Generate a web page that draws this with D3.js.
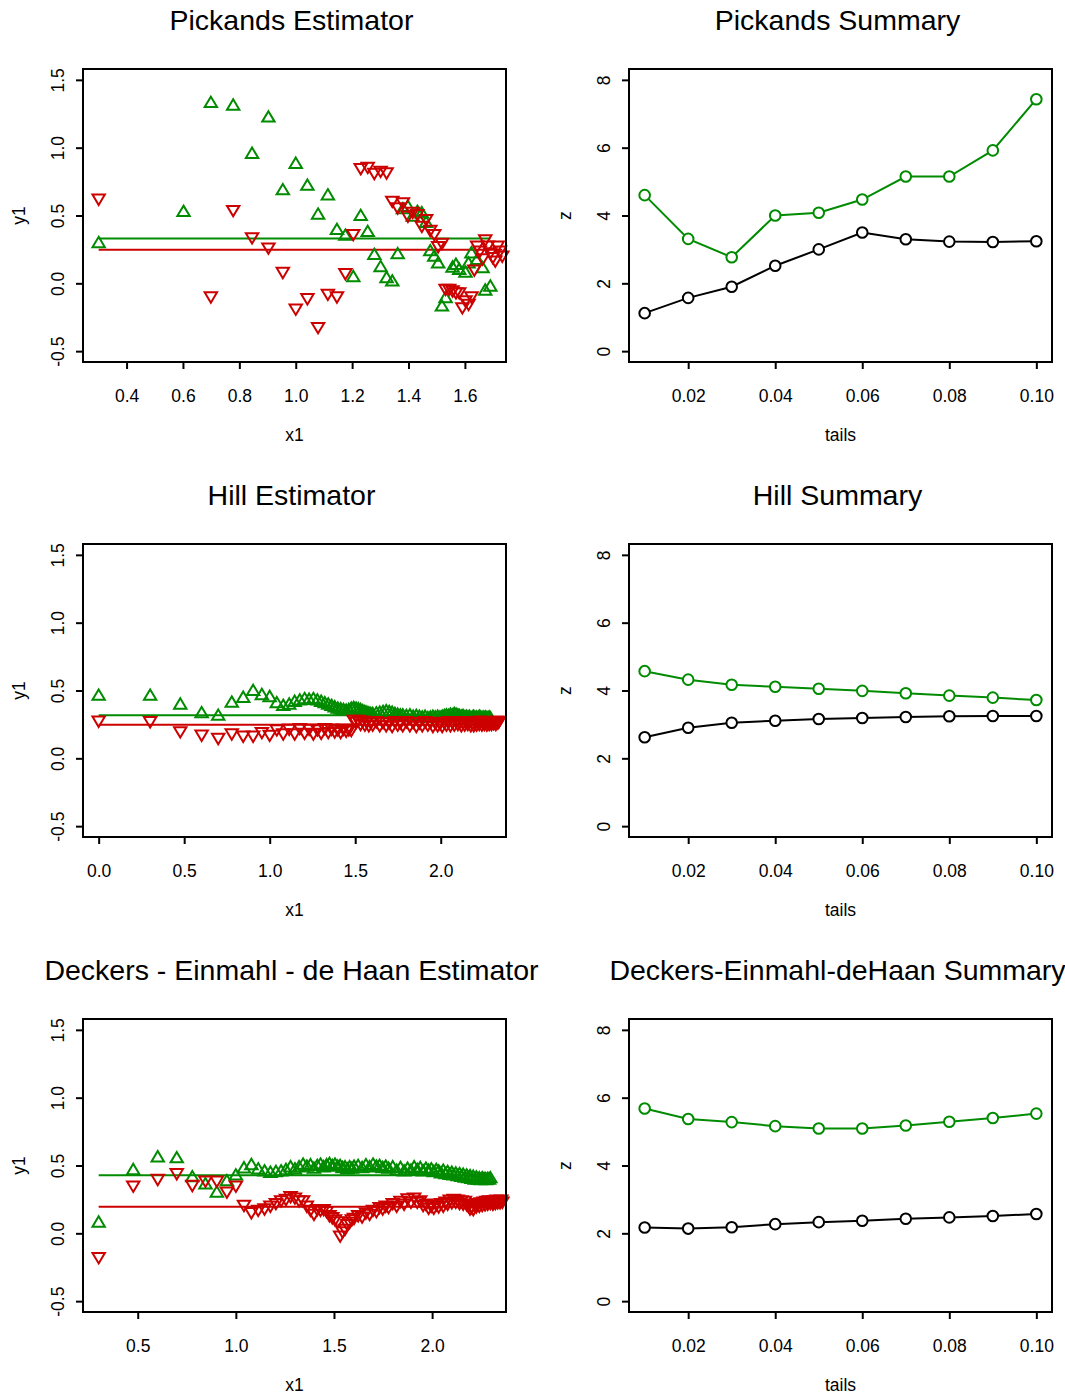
<!DOCTYPE html>
<html>
<head>
<meta charset="utf-8">
<script src="https://cdnjs.cloudflare.com/ajax/libs/d3/7.8.5/d3.min.js"></script>
<style>
  body { margin: 0; background: #fff; }
  svg text { font-family: "Liberation Sans", Arial, sans-serif; fill: #000; }
</style>
</head>
<body>
<svg id="chart" width="1065" height="1398"></svg>
<script>
//======
// Data
//======

// Pickands estimator: k (x1 = log10 k) and estimates
var pickUpK = [2,4,5,6,7,8,9,10,11,12,13,14,15,16,17,18,19,20,21,22,23,24,25,26,27,28,29,30,31,32,33,34,36,37,38,40,41,42,44,46,47,49];
var pickUpY = [0.30,0.53,1.333,1.314,0.958,1.226,0.69,0.885,0.723,0.51,0.652,0.397,0.355,0.05,0.50,0.382,0.213,0.123,0.042,0.017,0.218,0.55,0.568,0.495,0.53,0.52,0.45,0.24,0.20,0.15,-0.167,-0.105,0.12,0.14,0.103,0.083,0.15,0.225,0.176,0.115,-0.05,-0.02];
var pickDownK = [2,5,6,7,8,9,10,11,12,13,14,15,16,17,18,19,20,21,22,23,24,25,26,27,28,29,30,31,32,33,34,35,36,37,38,39,40,41,42,43,44,45,46,47,48,49,50,51,52,53,54];
var pickDownY = [0.62,-0.10,0.537,0.336,0.26,0.08,-0.19,-0.113,-0.326,-0.081,-0.10,0.071,0.36,0.846,0.855,0.81,0.826,0.814,0.605,0.556,0.593,0.495,0.524,0.507,0.42,0.47,0.39,0.36,0.27,0.294,-0.044,-0.044,-0.056,-0.07,-0.07,-0.18,-0.13,-0.155,-0.10,0.098,0.274,0.238,0.18,0.32,0.274,0.225,0.19,0.164,0.274,0.238,0.20];
var pickLines = [0.331, 0.248];

// Hill estimator
var hillUpK = [1,2,3,4,5,6,7,8,9,10,11,12,13,14,15,16,17,18,19,20,21,22,23,24,25,26,27,28,29,30,31,32,33,34,35,36,37,38,39,40,
  42,44,46,48,50,52,54,56,58,60,
  63,66,69,72,75,78,81,84,87,90,93,96,99,102,105,108,111,114,117,120,123,126,129,132,135,138,141,144,147,150,153,156,159,162,165,168,171,174,177,180,183,186,189,192,195];
var hillUpY = [0.465,0.465,0.40,0.336,0.318,0.414,0.45,0.50,0.47,0.455,0.41,0.39,0.40,0.42,0.43,0.44,0.435,0.44,0.43,0.42,0.41,0.40,0.39,0.38,0.37,0.365,0.36,0.355,0.36,0.37,0.375,0.37,0.365,0.36,0.35,0.345,0.34,0.335,0.33,0.33,
  0.335,0.34,0.345,0.35,0.345,0.34,0.33,0.325,0.32,0.32,
  0.315,0.32,0.31,0.315,0.31,0.305,0.31,0.30,0.305,0.31,0.305,0.31,0.305,0.31,0.315,0.32,0.315,0.325,0.32,0.33,0.325,0.32,0.315,
  0.31,0.315,0.305,0.31,0.305,0.31,0.30,0.305,0.31,0.30,0.305,0.30,0.31,0.305,0.30,0.305,0.30,0.305,0.30,0.30,0.305,0.30];
var hillDownK = [1,2,3,4,5,6,7,8,9,10,11,12,13,14,15,16,17,18,19,20,21,22,23,24,25,26,27,28,29,30,31,32,33,34,35,36,37,38,39,40,
  42,44,46,48,50,52,54,56,58,60,
  63,66,69,72,75,78,81,84,87,90,93,96,99,102,105,108,111,114,117,120,123,126,129,132,135,138,141,144,147,150,153,156,159,162,165,168,171,174,177,180,183,186,189,192,195,198,201,204,207,210,213,216,219];
var hillDownY = [0.274,0.27,0.196,0.171,0.147,0.18,0.163,0.163,0.19,0.17,0.21,0.18,0.215,0.18,0.22,0.185,0.215,0.18,0.21,0.185,0.22,0.19,0.215,0.195,0.21,0.19,0.215,0.20,0.21,0.205,0.28,0.265,0.28,0.25,0.275,0.245,0.27,0.24,0.265,0.245,
  0.27,0.24,0.265,0.24,0.26,0.235,0.27,0.245,0.26,0.24,
  0.27,0.24,0.265,0.235,0.26,0.24,0.27,0.245,0.265,0.235,0.26,0.24,0.255,0.235,0.265,0.245,0.27,0.24,0.265,0.245,
  0.27,0.25,0.265,0.24,0.26,0.245,0.27,0.25,0.265,0.24,0.26,0.24,0.265,0.245,0.27,0.25,0.275,0.245,0.27,0.25,
  0.265,0.245,0.27,0.25,0.265,0.25,0.27,0.255,0.27,0.25,0.275,0.26,0.27];
var hillLines = [0.318, 0.248];

// Deckers - Einmahl - de Haan estimator
var dedhUpK = [2,3,4,5,6,7,8,9,10,11,12,13,14,15,16,17,18,19,20,21,22,23,24,25,26,27,28,29,30,31,32,33,34,35,36,37,38,39,40,
  42,44,46,48,50,52,54,56,58,60,
  63,66,69,72,75,78,81,84,87,90,93,96,99,102,105,108,111,114,117,120,123,126,129,132,135,138,141,144,147,150,153,156,159,162,165,168,171,174,177,180,183,186,189,192,195,198];
var dedhUpY = [0.083,0.47,0.564,0.557,0.417,0.365,0.304,0.388,0.43,0.483,0.507,0.475,0.46,0.45,0.455,0.46,0.47,0.49,0.475,0.49,0.51,0.495,0.505,0.48,0.50,0.51,0.49,0.505,0.515,0.50,0.51,0.495,0.50,0.485,0.49,0.475,0.49,0.48,0.495,
  0.50,0.485,0.505,0.49,0.51,0.495,0.50,0.485,0.495,0.48,
  0.49,0.465,0.485,0.46,0.48,0.465,0.49,0.47,0.485,0.46,0.48,0.465,0.475,0.455,0.47,
  0.46,0.445,0.465,0.44,0.455,0.435,0.45,0.43,0.445,0.425,0.44,0.42,0.435,0.415,0.43,0.41,0.425,0.405,0.42,0.40,0.415,0.40,0.41,0.395,0.41,0.40,0.405,0.395,0.405,0.40,0.41];
var dedhDownK = [2,3,4,5,6,7,8,9,10,11,12,13,14,15,16,17,18,19,20,21,22,23,24,25,26,27,28,29,30,31,32,33,34,35,36,37,38,39,40,
  42,44,46,48,50,52,54,56,58,60,
  63,66,69,72,75,78,81,84,87,90,93,96,99,102,105,108,111,114,117,120,123,126,129,132,135,138,141,144,147,150,153,156,159,162,165,168,171,174,177,180,183,186,189,192,195,198,201,204,207,210,213,216,219,222,225,228];
var dedhDownY = [-0.179,0.348,0.397,0.44,0.353,0.385,0.385,0.304,0.348,0.206,0.152,0.17,0.18,0.20,0.22,0.24,0.25,0.27,0.26,0.24,0.24,0.20,0.17,0.14,0.175,0.17,0.175,0.16,0.13,0.115,0.10,0.085,-0.02,0.01,0.03,0.065,0.08,0.10,0.11,
  0.13,0.12,0.15,0.14,0.17,0.16,0.19,0.18,0.20,0.19,
  0.22,0.20,0.235,0.215,0.255,0.23,
  0.26,0.23,0.24,0.205,0.215,0.185,
  0.20,0.185,0.21,0.195,0.22,0.20,0.23,0.215,
  0.245,0.225,0.25,0.23,0.245,0.22,0.24,0.215,0.235,0.21,
  0.20,0.18,0.19,0.175,0.21,0.195,0.22,0.20,0.225,0.205,
  0.23,0.21,0.235,0.215,0.24,0.22,0.235,0.215,0.24,0.22,0.245,0.225,0.24,0.225,0.245,0.23];
var dedhLines = [0.429, 0.196];

// Summaries over tail fractions
var tails = [0.01,0.02,0.03,0.04,0.05,0.06,0.07,0.08,0.09,0.10];
var pickSumUpper = [4.60,3.31,2.77,4.00,4.08,4.47,5.15,5.15,5.92,7.43];
var pickSumLower = [1.12,1.57,1.90,2.52,3.00,3.50,3.30,3.23,3.22,3.24];
var hillSumUpper = [4.57,4.32,4.17,4.11,4.05,3.99,3.92,3.85,3.79,3.72];
var hillSumLower = [2.62,2.90,3.05,3.11,3.16,3.19,3.22,3.24,3.25,3.25];
var dedhSumUpper = [5.68,5.37,5.28,5.16,5.09,5.09,5.18,5.29,5.40,5.53];
var dedhSumLower = [2.17,2.14,2.18,2.27,2.33,2.37,2.43,2.47,2.51,2.57];

var estTicksY = [-0.5, 0, 0.5, 1.0, 1.5];
var sumTicksY = [0, 2, 4, 6, 8];
var sumTicksX = [0.02, 0.04, 0.06, 0.08, 0.10];

//========
// Layout
//========

var colLeft = [83, 506], colRight = [629, 1052];
var rowTop = [69, 544, 1019], plotH = 293;
var green = "#008B00", red = "#CD0000";
var lw = 2;

var svg = d3.select("#chart");

// R style 4% padding
function pad(ext) {
  var d = (ext[1] - ext[0]) * 0.04;
  return [ext[0] - d, ext[1] + d];
}

function triangle(up) {
  var s = up ? 1 : -1;
  return "M0," + (-5.8 * s) + "L6.2," + (4.6 * s) + "L-6.2," + (4.6 * s) + "Z";
}

function decorate(g, w, opt) {
  // box
  g.append("rect")
    .attr("width", w).attr("height", plotH)
    .attr("fill", "none").attr("stroke", "#000").attr("stroke-width", lw);

  g.append("text")
    .attr("x", w / 2 - 3).attr("y", -39)
    .attr("text-anchor", "middle")
    .style("font-size", "28.5px")
    .text(opt.title);

  g.append("text")
    .attr("x", w / 2).attr("y", plotH + 79)
    .attr("text-anchor", "middle")
    .style("font-size", "17.5px")
    .text(opt.xlab);

  g.append("text")
    .attr("transform", "translate(-58," + (plotH / 2) + ") rotate(-90)")
    .attr("text-anchor", "middle")
    .style("font-size", "17.5px")
    .text(opt.ylab);
}

function styleAxes(g, x, y, xTicks, yTicks, xFmt, yFmt) {
  var xa = g.append("g")
    .attr("transform", "translate(0," + plotH + ")")
    .call(d3.axisBottom(x).tickValues(xTicks).tickFormat(xFmt).tickSize(7));
  var ya = g.append("g")
    .call(d3.axisLeft(y).tickValues(yTicks).tickFormat(yFmt).tickSize(7));

  [xa, ya].forEach(function(a) {
    a.select(".domain").remove();
    a.selectAll("line").attr("stroke", "#000").attr("stroke-width", lw);
    a.selectAll("text").style("font-size", "17.5px").attr("fill", "#000")
      .style("font-family", "'Liberation Sans', Arial, sans-serif");
  });
  xa.selectAll("text").attr("y", 40).attr("dy", null);
  ya.selectAll("text")
    .attr("x", null).attr("dy", null)
    .attr("text-anchor", "middle")
    .attr("transform", "translate(-19,0) rotate(-90)");
}

function drawEstimator(opt) {
  var w = colLeft[1] - colLeft[0];
  var g = svg.append("g").attr("transform", "translate(" + colLeft[0] + "," + opt.top + ")");

  var upX = opt.upK.map(function(k) { return Math.log10(k); });
  var downX = opt.downK.map(function(k) { return Math.log10(k); });

  var x = d3.scaleLinear().domain(pad(d3.extent(upX))).range([0, w]);
  var y = d3.scaleLinear().domain(pad([-0.5, 1.5])).range([plotH, 0]);

  var fmt1 = function(d) { return d.toFixed(1); };
  styleAxes(g, x, y, opt.xTicks, estTicksY, fmt1, fmt1);

  // mean lines
  g.append("line")
    .attr("x1", x(upX[0])).attr("x2", x(upX[upX.length - 1]))
    .attr("y1", y(opt.lines[0])).attr("y2", y(opt.lines[0]))
    .attr("stroke", green).attr("stroke-width", lw);
  g.append("line")
    .attr("x1", x(downX[0])).attr("x2", x(downX[downX.length - 1]))
    .attr("y1", y(opt.lines[1])).attr("y2", y(opt.lines[1]))
    .attr("stroke", red).attr("stroke-width", lw);

  g.selectAll(".up")
    .data(opt.upY)
    .enter()
    .append("path")
    .attr("class", "up")
    .attr("d", triangle(true))
    .attr("transform", function(d, i) { return "translate(" + x(upX[i]) + "," + y(d) + ")"; })
    .attr("fill", "none").attr("stroke", green).attr("stroke-width", 2);

  g.selectAll(".down")
    .data(opt.downY)
    .enter()
    .append("path")
    .attr("class", "down")
    .attr("d", triangle(false))
    .attr("transform", function(d, i) { return "translate(" + x(downX[i]) + "," + y(d) + ")"; })
    .attr("fill", "none").attr("stroke", red).attr("stroke-width", 2);

  decorate(g, w, { title: opt.title, xlab: "x1", ylab: "y1" });
}

function drawSummary(opt) {
  var w = colRight[1] - colRight[0];
  var g = svg.append("g").attr("transform", "translate(" + colRight[0] + "," + opt.top + ")");

  var x = d3.scaleLinear().domain(pad(d3.extent(tails))).range([0, w]);
  var y = d3.scaleLinear().domain(pad([0, 8])).range([plotH, 0]);

  styleAxes(g, x, y, sumTicksX, sumTicksY,
    function(d) { return d.toFixed(2); },
    function(d) { return String(d); });

  var line = d3.line()
    .x(function(d, i) { return x(tails[i]); })
    .y(function(d) { return y(d); });

  [[opt.lower, "#000"], [opt.upper, green]].forEach(function(s) {
    g.append("path")
      .attr("d", line(s[0]))
      .attr("fill", "none").attr("stroke", s[1]).attr("stroke-width", lw);
    g.selectAll(null)
      .data(s[0])
      .enter()
      .append("circle")
      .attr("cx", function(d, i) { return x(tails[i]); })
      .attr("cy", function(d) { return y(d); })
      .attr("r", 5.3)
      .attr("fill", "#fff").attr("stroke", s[1]).attr("stroke-width", 2);
  });

  decorate(g, w, { title: opt.title, xlab: "tails", ylab: "z" });
}

drawEstimator({ top: rowTop[0], title: "Pickands Estimator", upK: pickUpK, upY: pickUpY,
  downK: pickDownK, downY: pickDownY, lines: pickLines, xTicks: [0.4,0.6,0.8,1.0,1.2,1.4,1.6] });
drawEstimator({ top: rowTop[1], title: "Hill Estimator", upK: hillUpK, upY: hillUpY,
  downK: hillDownK, downY: hillDownY, lines: hillLines, xTicks: [0,0.5,1.0,1.5,2.0] });
drawEstimator({ top: rowTop[2], title: "Deckers - Einmahl - de Haan Estimator", upK: dedhUpK, upY: dedhUpY,
  downK: dedhDownK, downY: dedhDownY, lines: dedhLines, xTicks: [0.5,1.0,1.5,2.0] });

drawSummary({ top: rowTop[0], title: "Pickands Summary", upper: pickSumUpper, lower: pickSumLower });
drawSummary({ top: rowTop[1], title: "Hill Summary", upper: hillSumUpper, lower: hillSumLower });
drawSummary({ top: rowTop[2], title: "Deckers-Einmahl-deHaan Summary", upper: dedhSumUpper, lower: dedhSumLower });
</script>
</body>
</html>
